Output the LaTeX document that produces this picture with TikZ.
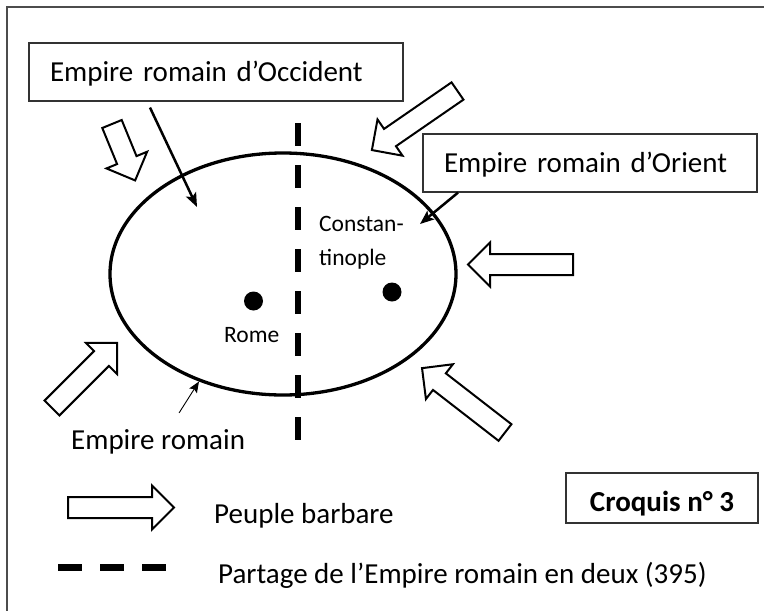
\documentclass[tikz,border=0pt]{standalone}
\usepackage{fontspec}
\setmainfont{Carlito}
\usetikzlibrary{arrows.meta,shapes.geometric}

\newcommand{\grand}{\fontsize{29}{35}\selectfont}
\newcommand{\petit}{\fontsize{23.5}{34}\selectfont}
\newcommand{\barbare}[3]{%
  \begin{scope}[shift={#1},rotate=#2]
    \draw[fleche] (0,-10.5) -- ({#3-22},-10.5) -- ({#3-22},-22) -- (#3,0)
      -- ({#3-22},22) -- ({#3-22},10.5) -- (0,10.5) -- cycle;
  \end{scope}}

\begin{document}
\begin{tikzpicture}[x=1pt,y=-1pt,
  cadre/.style={line width=1.3pt,black!70},
  boite/.style={draw=black!80,line width=1.2pt,fill=white,align=left,inner xsep=21pt,
    minimum height=58pt,text height=19pt,text depth=0pt,font=\grand},
  texte/.style={anchor=base west,inner sep=0pt},
  fleche/.style={draw,line width=2pt,fill=white,line join=miter},
  pointeur/.style={line width=2.5pt,-{Stealth[length=14pt,width=11pt,inset=3pt]}},
  fin/.style={line width=0.9pt,-{Stealth[length=11pt,width=9pt,inset=2pt]}},
  partage/.style={line width=6pt,dash pattern=on 23pt off 19pt},
  ville/.style={circle,fill,inner sep=0pt,minimum size=19pt}]
\useasboundingbox (0,0) rectangle (764,611);
\draw[cadre] (7,611) -- (7,7) -- (764,7);

\node[ellipse,draw,line width=3.3pt,minimum width=346pt,minimum height=242pt,inner sep=0pt] (empire) at (283,274) {};
\draw[partage] (298,123) -- (298,440);

\node[boite,text width=332pt] (occident) at (216,72) {Empire romain d’Occident};
\node[boite,text width=292pt] (orient) at (590,163) {Empire romain d’Orient};

\node[ville] (romepoint) at (253.5,301) {};
\node[ville] (cstpoint) at (392,292) {};
\node[texte,font=\petit] (rome) at (224,342) {Rome};
\node[texte,font=\petit,text width=100pt,align=left] (constantinople) at (319,231) {Constan-\\tinople};
\node[texte,font=\grand] (empireromain) at (71,449) {Empire romain};

\coordinate (occ) at (197,207);
\coordinate (cst) at (420,224);
\draw[pointeur] ([shift={(-66,6)}]occident.south) -- (occ);
\draw[pointeur] ([xshift=-132pt]orient.south) -- (cst);
\draw[fin] ([shift={(21,-16)}]empireromain.north) -- (empire.232);

\barbare{(112,124)}{-67.7}{61}
\barbare{(457.5,91)}{214.6}{104}
\barbare{(573,264.5)}{180}{105}
\barbare{(52,408)}{45}{92}
\barbare{(505,432.5)}{142.2}{105}

\barbare{(68,507.5)}{0}{106}
\node[texte,font=\grand] (peuple) at (214,523) {Peuple barbare};
\draw[partage,line width=7pt,dash pattern=on 24pt off 18pt] (58,567) -- (166,567);
\node[texte,font=\grand] (partagetexte) at (218,583) {Partage de l’Empire romain en deux (395)};

\node[draw=black!80,line width=1.2pt,minimum width=192pt,minimum height=50pt,text height=27pt,
  text depth=0pt,inner sep=0pt,font=\grand\bfseries] (croquis) at (662,498) {Croquis n° 3};
\end{tikzpicture}
\end{document}
